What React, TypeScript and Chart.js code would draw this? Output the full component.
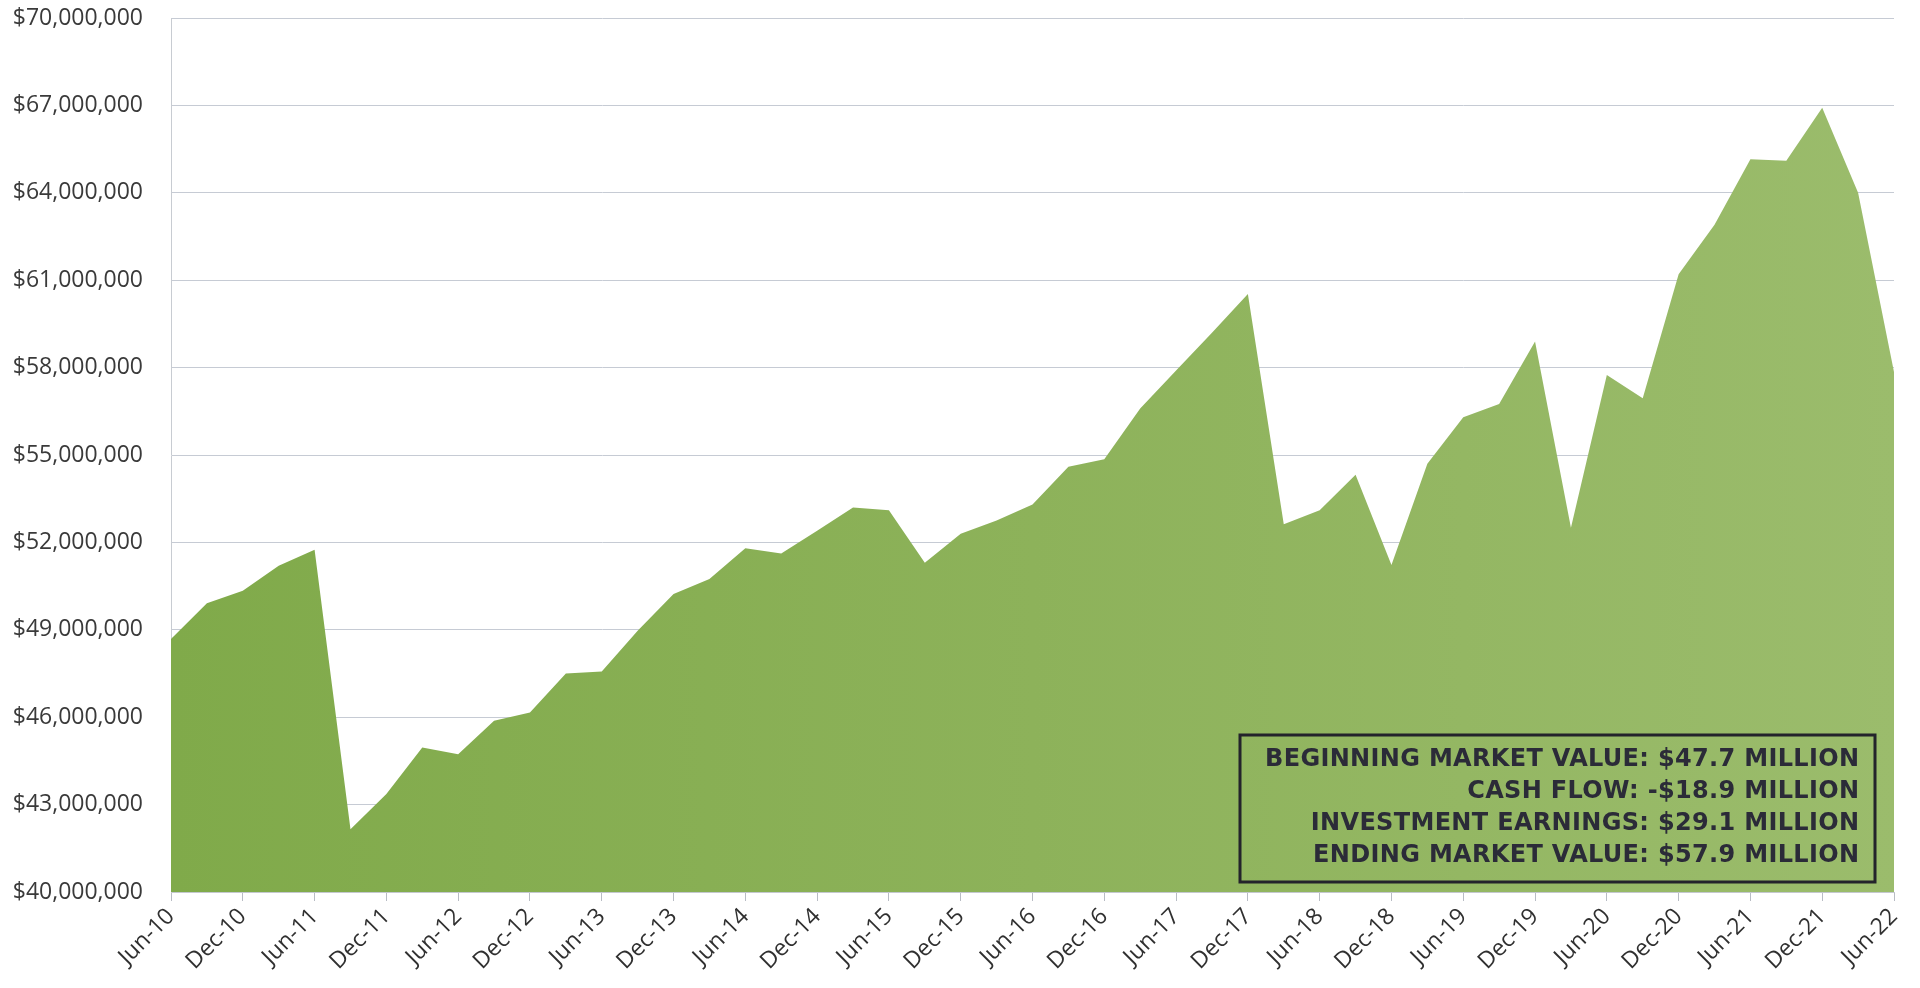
import React, { useEffect, useRef } from "react";
import { Chart, registerables } from "chart.js";

Chart.register(...registerables);

const quarters: string[] = [
  "Jun-10", "Sep-10", "Dec-10", "Mar-11", "Jun-11", "Sep-11", "Dec-11", "Mar-12",
  "Jun-12", "Sep-12", "Dec-12", "Mar-13", "Jun-13", "Sep-13", "Dec-13", "Mar-14",
  "Jun-14", "Sep-14", "Dec-14", "Mar-15", "Jun-15", "Sep-15", "Dec-15", "Mar-16",
  "Jun-16", "Sep-16", "Dec-16", "Mar-17", "Jun-17", "Sep-17", "Dec-17", "Mar-18",
  "Jun-18", "Sep-18", "Dec-18", "Mar-19", "Jun-19", "Sep-19", "Dec-19", "Mar-20",
  "Jun-20", "Sep-20", "Dec-20", "Mar-21", "Jun-21", "Sep-21", "Dec-21", "Mar-22",
  "Jun-22",
];

// Market value in millions of dollars
const marketValueMillions: number[] = [
  48.68, 49.91, 50.34, 51.2, 51.75, 42.15, 43.36, 44.96,
  44.73, 45.88, 46.16, 47.5, 47.57, 48.97, 50.23, 50.74,
  51.8, 51.62, 52.4, 53.2, 53.1, 51.3, 52.3, 52.75,
  53.3, 54.6, 54.85, 56.6, 57.9, 59.2, 60.53, 52.62,
  53.1, 54.32, 51.22, 54.7, 56.3, 56.75, 58.9, 52.5,
  57.75, 56.95, 61.2, 62.9, 65.15, 65.1, 66.92, 64.0,
  57.85,
];

const summaryLines: string[] = [
  "BEGINNING MARKET VALUE: $47.7 MILLION",
  "CASH FLOW: -$18.9 MILLION",
  "INVESTMENT EARNINGS: $29.1 MILLION",
  "ENDING MARKET VALUE: $57.9 MILLION",
];

const Y_MIN = 40000000;
const Y_MAX = 70000000;
const Y_STEP = 3000000;

const summaryBoxPlugin = {
  id: "summaryBox",
  afterDatasetsDraw(chart: any) {
    const { ctx, chartArea } = chart;
    const boxRight = chartArea.right - 19;
    const boxBottom = chartArea.bottom - 10;
    const boxW = 635;
    const boxH = 147;
    const boxLeft = boxRight - boxW;
    const boxTop = boxBottom - boxH;
    ctx.save();
    ctx.strokeStyle = "#23232b";
    ctx.lineWidth = 3;
    ctx.strokeRect(boxLeft, boxTop, boxW, boxH);

    const targetW = 594;
    let fontSize = 22;
    const family = '"DejaVu Sans", sans-serif';
    ctx.font = `bold ${fontSize}px ${family}`;
    const w0 = ctx.measureText(summaryLines[0]).width;
    fontSize = Math.min(24, Math.max(19, (fontSize * targetW) / w0));
    ctx.font = `bold ${fontSize.toFixed(1)}px ${family}`;
    const w1 = ctx.measureText(summaryLines[0]).width;
    const spacing = Math.max(0, Math.min(2, (targetW - w1) / (summaryLines[0].length - 1)));
    (ctx as any).letterSpacing = `${spacing.toFixed(2)}px`;
    ctx.fillStyle = "#2b2b38";
    ctx.textAlign = "right";
    ctx.textBaseline = "middle";
    const textRight = boxRight - 16 + spacing;
    const firstY = boxTop + 25;
    summaryLines.forEach((line, i) => {
      ctx.fillText(line, textRight, firstY + i * 32);
    });
    ctx.restore();
  },
};

export default function App() {
  const canvasRef = useRef<HTMLCanvasElement | null>(null);

  useEffect(() => {
    document.body.style.margin = "0";
    const canvas = canvasRef.current;
    if (!canvas) return;
    const chart = new Chart(canvas, {
      type: "line",
      data: {
        labels: quarters,
        datasets: [
          {
            label: "Market Value",
            data: marketValueMillions.map((v) => v * 1000000),
            fill: "start",
            borderWidth: 0,
            borderColor: "rgba(0,0,0,0)",
            pointRadius: 0,
            tension: 0,
            backgroundColor: (c: any) => {
              const { chart: ch } = c;
              const area = ch.chartArea;
              if (!area) return "#8CB258";
              const g = ch.ctx.createLinearGradient(area.left, 0, area.right, 0);
              g.addColorStop(0, "#80AA4A");
              g.addColorStop(0.5, "#8DB25A");
              g.addColorStop(1, "#9BBC6C");
              return g;
            },
          },
        ],
      },
      options: {
        responsive: false,
        animation: false,
        devicePixelRatio: 1,
        layout: { padding: { top: 0, right: 26, left: 0, bottom: 0 } },
        plugins: {
          legend: { display: false },
          tooltip: { enabled: false },
          title: { display: false },
        },
        scales: {
          x: {
            type: "category",
            offset: false,
            afterFit: (scale: any) => {
              scale.height = 96;
            },
            grid: {
              drawOnChartArea: false,
              drawTicks: true,
              tickLength: 9,
              color: "#b8bcc4",
            },
            border: { display: true, color: "#c4c8cf" },
            ticks: {
              autoSkip: false,
              maxRotation: 45,
              minRotation: 45,
              padding: 2,
              color: "#303030",
              font: { family: "'Open Sans', sans-serif", size: 23 },
              callback: (_val: any, idx: number) =>
                idx % 2 === 0 ? quarters[idx] : null,
            },
          },
          y: {
            min: Y_MIN,
            max: Y_MAX,
            afterFit: (scale: any) => {
              scale.width = 171;
              scale.paddingTop = 18;
              scale.paddingBottom = 0;
            },
            grid: {
              drawTicks: false,
              color: "#c6cbd4",
              lineWidth: 1,
            },
            border: { display: true, color: "#c8ccd2" },
            ticks: {
              stepSize: Y_STEP,
              padding: 28,
              color: "#3a3a3a",
              font: { family: "'Open Sans', sans-serif", size: 23 },
              callback: (v: any) => "$" + Number(v).toLocaleString("en-US"),
            },
          },
        },
      },
      plugins: [summaryBoxPlugin],
    });
    return () => chart.destroy();
  }, []);

  return (
    <div style={{ position: "absolute", left: 0, top: 0, width: 1920, height: 988, background: "#ffffff" }}>
      <canvas ref={canvasRef} width={1920} height={988} style={{ width: 1920, height: 988, display: "block" }} />
    </div>
  );
}
